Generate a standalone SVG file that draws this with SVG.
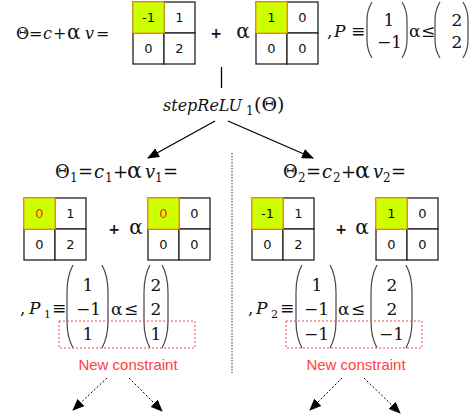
<svg xmlns="http://www.w3.org/2000/svg" width="471" height="416" viewBox="0 0 471 416">
<defs>
<style>
.m{font-family:"DejaVu Serif","Liberation Serif",serif;font-size:16px;fill:#111}
.m18{font-size:18px}
.m17{font-size:17px}
.i{font-style:italic}
.sb{font-size:12px}
.sb11{font-size:11px}
.c{font-family:"DejaVu Sans","Liberation Sans",sans-serif;font-size:13px;fill:#111;text-anchor:middle}
.cell{fill:#fff;stroke:#222;stroke-width:1.3}
.hl{fill:#ccff00;stroke:#e8b000;stroke-width:1.3}
.red{fill:#ff2a2a}
.pl{fill:none;stroke:#444;stroke-width:1.2}
.plus{font-family:"DejaVu Sans","Liberation Sans",sans-serif;font-size:14px;font-weight:bold;fill:#111;text-anchor:middle}
.al{font-family:"DejaVu Serif","Liberation Serif",serif;font-size:20px;fill:#111;text-anchor:middle}
.box{fill:none;stroke:#ff4444;stroke-width:1;stroke-dasharray:2,2}
.nc{font-family:"Liberation Sans",Arial,sans-serif;font-size:15px;fill:#ff4040;text-anchor:middle}
.arr{stroke:#000;stroke-width:1.3;fill:none}
.darr{stroke:#000;stroke-width:1;fill:none;stroke-dasharray:2,2}
.end{text-anchor:end}
.mid{text-anchor:middle}
</style>
<marker id="ah" markerWidth="12" markerHeight="10" refX="11" refY="5" orient="auto" markerUnits="userSpaceOnUse">
<path d="M0,0 L12,5 L0,10 Z" fill="#000"/>
</marker>
</defs>

<!-- Top row -->
<g id="top-eq">
<text class="m" y="39"><tspan x="16">Θ</tspan><tspan x="29">=</tspan><tspan x="43" class="i">c</tspan><tspan x="53">+</tspan><tspan x="67" style="font-size:20px">α</tspan><tspan x="85" class="i">v</tspan><tspan x="96">=</tspan></text>
</g>
<g id="top-c">
<rect class="cell" x="133" y="2" width="31" height="31"/>
<rect class="cell" x="164" y="2" width="31" height="31"/>
<rect class="cell" x="133" y="33" width="31" height="31"/>
<rect class="cell" x="164" y="33" width="31" height="31"/>
<rect class="hl" x="133" y="2" width="31" height="31"/>
<text class="c" x="148.5" y="22">-1</text><text class="c" x="179.5" y="22">1</text>
<text class="c" x="148.5" y="53">0</text><text class="c" x="179.5" y="53">2</text>
</g>
<g id="top-plus">
<text class="plus" x="216" y="38">+</text>
<text class="al" x="243" y="38">α</text>
</g>
<g id="top-v">
<rect class="cell" x="256" y="2" width="31" height="31"/>
<rect class="cell" x="287" y="2" width="31" height="31"/>
<rect class="cell" x="256" y="33" width="31" height="31"/>
<rect class="cell" x="287" y="33" width="31" height="31"/>
<rect class="hl" x="256" y="2" width="31" height="31"/>
<text class="c" x="271.5" y="22">1</text><text class="c" x="302.5" y="22">0</text>
<text class="c" x="271.5" y="53">0</text><text class="c" x="302.5" y="53">0</text>
</g>
<g id="top-P">
<text class="m m17" y="37"><tspan x="327">,</tspan><tspan x="334" class="i">P</tspan><tspan x="351">≡</tspan></text>
<path class="pl" d="M372,2 Q367,10 367,20 L367,40 Q367,50 372,58"/>
<path class="pl" d="M402,2 Q407,10 407,20 L407,40 Q407,50 402,58"/>
<text class="m m17" x="389" y="26" text-anchor="middle">1</text>
<text class="m m17 end" x="402" y="48">−1</text>
<text class="m m17" y="37"><tspan x="409">α</tspan><tspan x="421">≤</tspan></text>
<path class="pl" d="M440,2 Q435,10 435,20 L435,40 Q435,50 440,58"/>
<path class="pl" d="M463,2 Q468,10 468,20 L468,40 Q468,50 463,58"/>
<text class="m m17 mid" x="457" y="26">2</text>
<text class="m m17 mid" x="457" y="48">2</text>
</g>

<!-- stepReLU -->
<g id="step">
<text class="m" y="111"><tspan x="163" class="i">stepReLU</tspan><tspan x="246" y="115" class="sb">1</tspan><tspan x="254" y="111" style="font-size:19px">(Θ)</tspan></text>
</g>

<!-- Left branch -->
<g id="left-eq">
<text class="m m18" y="178"><tspan x="55">Θ</tspan><tspan x="70" y="182" class="sb">1</tspan><tspan x="78" y="178">=</tspan><tspan x="94" class="i">c</tspan><tspan x="105" y="182" class="sb">1</tspan><tspan x="113" y="178">+</tspan><tspan x="127" style="font-size:22px">α</tspan><tspan x="145" class="i">v</tspan><tspan x="155" y="182" class="sb">1</tspan><tspan x="163" y="178">=</tspan></text>
</g>
<g id="left-c">
<rect class="cell" x="24" y="198" width="31" height="31"/>
<rect class="cell" x="55" y="198" width="31" height="31"/>
<rect class="cell" x="24" y="229" width="31" height="31"/>
<rect class="cell" x="55" y="229" width="31" height="31"/>
<rect class="hl" x="24" y="198" width="31" height="31"/>
<text class="c red" x="39.5" y="218">0</text><text class="c" x="70.5" y="218">1</text>
<text class="c" x="39.5" y="249">0</text><text class="c" x="70.5" y="249">2</text>
</g>
<g id="left-plus">
<text class="plus" x="114" y="234">+</text>
<text class="al" x="136" y="234">α</text>
</g>
<g id="left-v">
<rect class="cell" x="148" y="198" width="31" height="31"/>
<rect class="cell" x="179" y="198" width="31" height="31"/>
<rect class="cell" x="148" y="229" width="31" height="31"/>
<rect class="cell" x="179" y="229" width="31" height="31"/>
<rect class="hl" x="148" y="198" width="31" height="31"/>
<text class="c red" x="163.5" y="218">0</text><text class="c" x="194.5" y="218">0</text>
<text class="c" x="163.5" y="249">0</text><text class="c" x="194.5" y="249">0</text>
</g>
<g id="left-P">
<text class="m m17" y="314"><tspan x="20">,</tspan><tspan x="29" class="i">P</tspan><tspan x="44" y="318" class="sb11">1</tspan><tspan x="52" y="314">≡</tspan></text>
<path class="pl" d="M73,265 Q67,276 67,292 L67,321 Q67,337 73,348"/>
<path class="pl" d="M102,265 Q108,276 108,292 L108,321 Q108,337 102,348"/>
<text class="m m17 mid" x="88" y="291">1</text>
<text class="m m17 end" x="101" y="315">−1</text>
<text class="m m17 mid" x="88" y="340">1</text>
<text class="m m17" y="315"><tspan x="111">α</tspan><tspan x="124">≤</tspan></text>
<path class="pl" d="M150,265 Q144,276 144,292 L144,321 Q144,337 150,348"/>
<path class="pl" d="M162,265 Q168,276 168,292 L168,321 Q168,337 162,348"/>
<text class="m m17 mid" x="156" y="291">2</text>
<text class="m m17 mid" x="156" y="315">2</text>
<text class="m m17 mid" x="156" y="340">1</text>
</g>
<g id="left-new">
<rect class="box" x="59" y="321" width="136" height="27"/>
<text class="nc" x="128" y="370">New constraint</text>
</g>

<!-- Right branch -->
<g id="right-eq">
<text class="m m18" y="178"><tspan x="283">Θ</tspan><tspan x="298" y="182" class="sb">2</tspan><tspan x="306" y="178">=</tspan><tspan x="322" class="i">c</tspan><tspan x="333" y="182" class="sb">2</tspan><tspan x="341" y="178">+</tspan><tspan x="355" style="font-size:22px">α</tspan><tspan x="373" class="i">v</tspan><tspan x="383" y="182" class="sb">2</tspan><tspan x="391" y="178">=</tspan></text>
</g>
<g id="right-c">
<rect class="cell" x="252" y="198" width="31" height="31"/>
<rect class="cell" x="283" y="198" width="31" height="31"/>
<rect class="cell" x="252" y="229" width="31" height="31"/>
<rect class="cell" x="283" y="229" width="31" height="31"/>
<rect class="hl" x="252" y="198" width="31" height="31"/>
<text class="c" x="267.5" y="218">-1</text><text class="c" x="298.5" y="218">1</text>
<text class="c" x="267.5" y="249">0</text><text class="c" x="298.5" y="249">2</text>
</g>
<g id="right-plus">
<text class="plus" x="341" y="234">+</text>
<text class="al" x="362" y="234">α</text>
</g>
<g id="right-v">
<rect class="cell" x="376" y="198" width="31" height="31"/>
<rect class="cell" x="407" y="198" width="31" height="31"/>
<rect class="cell" x="376" y="229" width="31" height="31"/>
<rect class="cell" x="407" y="229" width="31" height="31"/>
<rect class="hl" x="376" y="198" width="31" height="31"/>
<text class="c" x="391.5" y="218">1</text><text class="c" x="422.5" y="218">0</text>
<text class="c" x="391.5" y="249">0</text><text class="c" x="422.5" y="249">0</text>
</g>
<g id="right-P">
<text class="m m17" y="314"><tspan x="248">,</tspan><tspan x="256" class="i">P</tspan><tspan x="271" y="318" class="sb11">2</tspan><tspan x="280" y="314">≡</tspan></text>
<path class="pl" d="M302,265 Q296,276 296,292 L296,321 Q296,337 302,348"/>
<path class="pl" d="M330,265 Q336,276 336,292 L336,321 Q336,337 330,348"/>
<text class="m m17 mid" x="317" y="291">1</text>
<text class="m m17 end" x="329" y="315">−1</text>
<text class="m m17 end" x="329" y="340">−1</text>
<text class="m m17" y="315"><tspan x="338">α</tspan><tspan x="351">≤</tspan></text>
<path class="pl" d="M377,265 Q371,276 371,292 L371,321 Q371,337 377,348"/>
<path class="pl" d="M406,265 Q412,276 412,292 L412,321 Q412,337 406,348"/>
<text class="m m17 mid" x="392" y="291">2</text>
<text class="m m17 mid" x="392" y="315">2</text>
<text class="m m17 end" x="404" y="340">−1</text>
</g>
<g id="right-new">
<rect class="box" x="286" y="321" width="136" height="27"/>
<text class="nc" x="356" y="370">New constraint</text>
</g>

<!-- Connectors -->
<g id="connectors">
<line class="arr" x1="221.5" y1="67" x2="221.5" y2="88"/>
<line class="arr" x1="215" y1="121" x2="148" y2="158" marker-end="url(#ah)"/>
<line class="arr" x1="228" y1="121" x2="313" y2="158" marker-end="url(#ah)"/>
<line x1="232" y1="153" x2="232" y2="373" stroke="#333" stroke-width="1" stroke-dasharray="1.5,1.5"/>
<line class="darr" x1="107" y1="378" x2="73" y2="410" marker-end="url(#ah)"/>
<line class="darr" x1="129" y1="378" x2="162" y2="411" marker-end="url(#ah)"/>
<line class="darr" x1="342" y1="378" x2="310" y2="410" marker-end="url(#ah)"/>
<line class="darr" x1="364" y1="378" x2="400" y2="413" marker-end="url(#ah)"/>
</g>
</svg>
